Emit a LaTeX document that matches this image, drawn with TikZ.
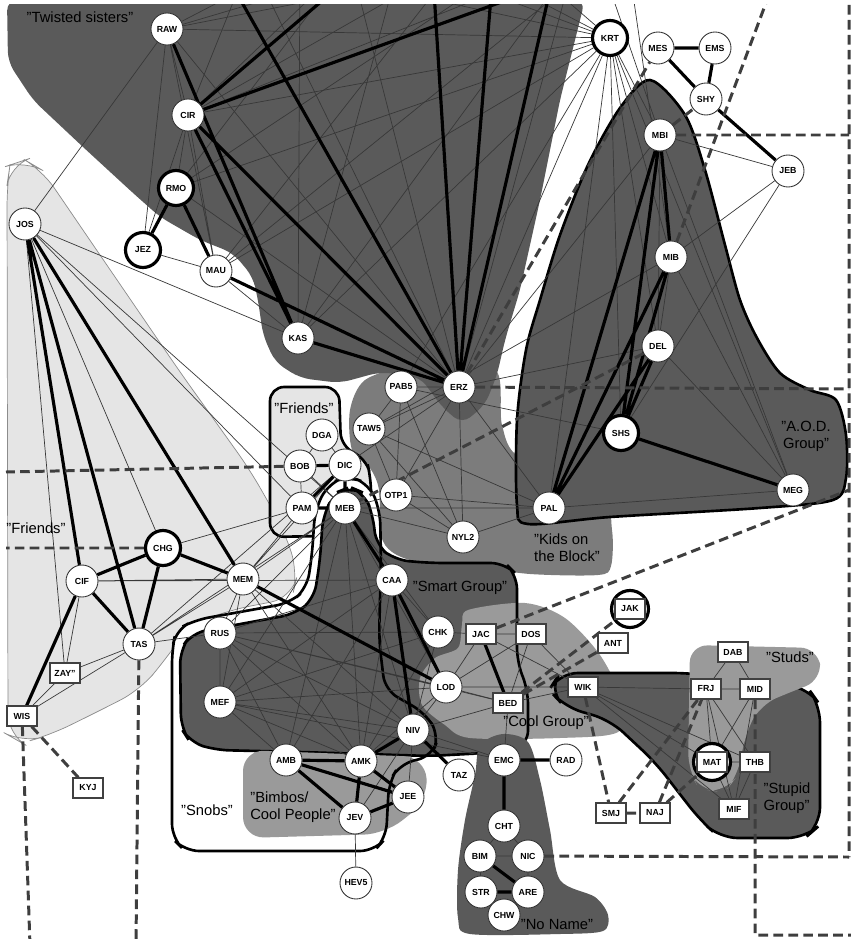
\documentclass[tikz,border=0pt]{standalone}
\usepackage{fontspec}
\setmainfont{Liberation Sans}
\setsansfont{Liberation Sans}
\usepackage{tikz}
\usetikzlibrary{backgrounds}
\definecolor{GroupDark}{RGB}{90,90,90}
\definecolor{GroupMid}{RGB}{124,124,124}
\definecolor{GroupSoft}{RGB}{154,154,154}
\definecolor{GroupLight}{RGB}{229,229,229}
\definecolor{LinkGray}{RGB}{62,62,62}

\begin{document}
\begin{tikzpicture}[x=0.02cm,y=-0.02cm,
    kid/.style={circle,draw=black!80,line width=0.5pt,fill=white,inner sep=0pt,
                minimum size=0.64cm,font=\fontsize{5}{6}\selectfont\bfseries},
    lead/.style={kid,draw=black,line width=1.8pt,minimum size=0.7cm},
    badge/.style={rectangle,draw=black!75,line width=0.6pt,fill=white,inner sep=1pt,
                  minimum width=0.6cm,minimum height=0.4cm,font=\fontsize{5}{6}\selectfont\bfseries},
    ring/.style={circle,draw=black,line width=1.8pt,fill=white,minimum size=0.74cm,inner sep=0pt},
    tie/.style={draw=black!78,line width=0.4pt},
    bond/.style={draw=black,line width=1.8pt},
    link/.style={draw=LinkGray,line width=1.7pt,dash pattern=on 5.5pt off 3pt},
    crowd/.style={draw=black,line width=1.5pt},
    gname/.style={font=\fontsize{8.4}{9.6}\selectfont,inner sep=0pt}
  ]
  \useasboundingbox (0,0) rectangle (851,939);

  % people
  \node[kid]  (RAW)  at (167,29)  {RAW};
  \node[lead] (KRT)  at (610,38)  {KRT};
  \node[kid]  (MES)  at (658,48)  {MES};
  \node[kid]  (EMS)  at (715,48)  {EMS};
  \node[kid]  (SHY)  at (706,99)  {SHY};
  \node[kid]  (CIR)  at (188,115) {CIR};
  \node[kid]  (MBI)  at (660,135) {MBI};
  \node[kid]  (JEB)  at (788,171) {JEB};
  \node[lead] (RMO)  at (176,188) {RMO};
  \node[kid]  (JOS)  at (25,224)  {JOS};
  \node[lead] (JEZ)  at (143,250) {JEZ};
  \node[kid]  (MAU)  at (216,271) {MAU};
  \node[kid]  (MIB)  at (671,257) {MIB};
  \node[kid]  (KAS)  at (298,338) {KAS};
  \node[kid]  (DEL)  at (658,346) {DEL};
  \node[kid]  (ERZ)  at (459,387) {ERZ};
  \node[kid]  (PAB5) at (401,387) {PAB5};
  \node[kid]  (TAW5) at (369,429) {TAW5};
  \node[kid]  (DGA)  at (322,435) {DGA};
  \node[lead] (SHS)  at (621,433) {SHS};
  \node[kid]  (BOB)  at (300,466) {BOB};
  \node[kid]  (DIC)  at (345,465) {DIC};
  \node[kid]  (OTP1) at (396,495) {OTP1};
  \node[kid]  (PAM)  at (302,508) {PAM};
  \node[kid]  (MEB)  at (345,508) {MEB};
  \node[kid]  (PAL)  at (549,508) {PAL};
  \node[kid]  (MEG)  at (793,490) {MEG};
  \node[kid]  (NYL2) at (463,537) {NYL2};
  \node[lead] (CHG)  at (163,548) {CHG};
  \node[kid]  (MEM)  at (243,579) {MEM};
  \node[kid]  (CIF)  at (82,581)  {CIF};
  \node[kid]  (CAA)  at (392,580) {CAA};
  \node[ring] (JAKring) at (630,609) {};
  \node[badge] (JAK) at (630,609) {JAK};
  \node[kid]  (RUS)  at (220,633) {RUS};
  \node[kid]  (CHK)  at (438,632) {CHK};
  \node[badge] (JAC) at (481,634) {JAC};
  \node[badge] (DOS) at (531,634) {DOS};
  \node[kid]  (TAS)  at (139,644) {TAS};
  \node[badge] (ANT) at (613,643) {ANT};
  \node[badge] (DAB) at (733,652) {DAB};
  \node[badge] (ZAY) at (65,673)  {ZAY"};
  \node[kid]  (LOD)  at (446,687) {LOD};
  \node[badge] (WIK) at (583,687) {WIK};
  \node[badge] (FRJ) at (706,689) {FRJ};
  \node[badge] (MID) at (755,689) {MID};
  \node[badge] (BED) at (508,703) {BED};
  \node[kid]  (MEF)  at (220,702) {MEF};
  \node[badge] (WIS) at (22,716)  {WIS};
  \node[kid]  (NIV)  at (413,730) {NIV};
  \node[kid]  (AMB)  at (286,760) {AMB};
  \node[kid]  (AMK)  at (361,761) {AMK};
  \node[kid]  (EMC)  at (504,760) {EMC};
  \node[kid]  (RAD)  at (566,760) {RAD};
  \node[ring] (MATring) at (712,762) {};
  \node[badge] (MAT) at (712,762) {MAT};
  \node[badge] (THB) at (755,762) {THB};
  \node[kid]  (TAZ)  at (459,775) {TAZ};
  \node[badge] (KYJ) at (88,788)  {KYJ};
  \node[kid]  (JEE)  at (408,797) {JEE};
  \node[badge] (MIF) at (734,809) {MIF};
  \node[badge] (SMJ) at (611,813) {SMJ};
  \node[badge] (NAJ) at (655,813) {NAJ};
  \node[kid]  (JEV)  at (355,818) {JEV};
  \node[kid]  (CHT)  at (504,826) {CHT};
  \node[kid]  (BIM)  at (480,856) {BIM};
  \node[kid]  (NIC)  at (528,856) {NIC};
  \node[kid]  (HEV5) at (356,883) {HEV5};
  \node[kid]  (STR)  at (481,892) {STR};
  \node[kid]  (ARE)  at (528,892) {ARE};
  \node[kid]  (CHW)  at (504,915) {CHW};

  % group names
  \node[gname] (twisted) at (80,17) {"Twisted sisters"};
  \node[gname] (friendsA) at (304,408) {"Friends"};
  \node[gname] (friendsB) at (36,528) {"Friends"};
  \node[gname,align=center] (aod) at (806,436) {"A.O.D.\\Group"};
  \node[gname,align=left] (kids) at (567,548) {"Kids on\\the Block"};
  \node[gname] (smart) at (460,588) {"Smart Group"};
  \node[gname] (cool) at (546,723) {"Cool Group"};
  \node[gname] (studs) at (790,657) {"Studs"};
  \node[gname,align=left] (stupid) at (787,798) {"Stupid\\Group"};
  \node[gname] (noname) at (557,924) {"No Name"};
  \node[gname] (snobs) at (207,810) {"Snobs"};
  \node[gname,align=left] (bimbos) at (293,807) {"Bimbos/\\Cool People"};

  % ends outside the picture
  \coordinate (oA) at (370,-40);
  \coordinate (oB) at (618,-40);
  \coordinate (oC) at (218,-40);
  \coordinate (oD) at (432,-40);
  \coordinate (oE) at (494,-40);
  \coordinate (oF) at (557,-40);
  \coordinate (oG) at (782,-40);
  \coordinate (u1) at (250,-40);
  \coordinate (u2) at (300,-40);
  \coordinate (u3) at (350,-40);
  \coordinate (u4) at (400,-40);
  \coordinate (u5) at (460,-40);
  \coordinate (u6) at (520,-40);
  \coordinate (u7) at (575,-40);
  \coordinate (u8) at (600,-40);
  \coordinate (u9) at (628,-40);
  \coordinate (eBOB) at (6,472);
  \coordinate (eCHG) at (6,548);
  \coordinate (eERZ) at (849,389);
  \coordinate (eMBI) at (849,135);
  \coordinate (eJAC) at (849,490);
  \coordinate (eTop) at (849,5);
  \coordinate (eNIC) at (849,857);
  \coordinate (eMID) at (755,935);
  \coordinate (eEnd) at (851,935);
  \coordinate (eTAS) at (136,945);
  \coordinate (eWIS) at (30,945);

  \begin{scope}[on background layer]
    \clip (0,5) rectangle (851,939);
    % groups
    \path[draw=black!45,line width=0.4pt,fill=GroupLight,rounded corners=12]
      (7,185) -- (10,165) -- (25,160) -- (42,170) -- (100,255) -- (180,372)
      -- (250,470) -- (283,528) -- (298,572) -- (292,598) -- (230,610) -- (190,625)
      -- (165,660) -- (140,690) -- (95,713) -- (50,735) -- (22,743) -- (8,735) -- cycle;
    \fill[GroupMid] plot[smooth cycle,tension=0.5] coordinates {
      (350,410) (365,380) (410,365) (455,362) (497,372) (502,425) (520,458)
      (600,490) (612,530) (611,566) (598,575) (530,574) (470,566) (418,562)
      (392,552) (381,535) (379,490) (370,468) (352,450)};
    \fill[GroupDark,rounded corners=6]
      (7,0) -- (585,0) -- (560,100) -- (540,200) -- (520,290) -- (505,340)
      -- (497,375) -- (485,405) -- (462,424) -- (442,407) -- (420,377) -- (380,372)
      -- (340,383) -- (300,378) -- (275,362) -- (263,335) -- (258,300) -- (253,277)
      -- (233,253) -- (200,240) -- (160,217) -- (133,193) -- (83,147) -- (33,100)
      -- (8,62) -- cycle;
    \path[crowd,fill=GroupDark] plot[smooth cycle,tension=0.5] coordinates {
      (650,80) (685,115) (705,170) (725,245) (740,300) (757,338) (780,373)
      (810,390) (836,400) (846,435) (846,478) (833,500) (760,508) (610,517)
      (528,524) (517,505) (517,420) (526,350) (540,300) (560,235) (588,165) (620,108)};
    \path[crowd,fill=GroupLight,rounded corners=8]
      (270,387) -- (339,387) -- (341,447) -- (366,458) -- (371,478)
      -- (371,535) -- (270,537) -- cycle;
    \path[save path=\snobsline,rounded corners=8]
      (172,650) -- (176,630) -- (195,620) -- (290,603) -- (307,588) -- (312,555)
      -- (315,510) -- (328,484) -- (348,476) -- (369,484) -- (380,510) -- (381,560)
      -- (379,640) -- (385,690) -- (425,713) -- (439,735) -- (432,756) -- (400,764)
      -- (389,782) -- (386,838) -- (374,851) -- (185,851) -- (172,838) -- cycle;
    \fill[white,use path=\snobsline];
    \path[save path=\smartline,rounded corners=8]
      (181,728) -- (180,650) -- (192,633) -- (235,625) -- (295,614) -- (314,599)
      -- (320,560) -- (323,515) -- (335,493) -- (350,487) -- (364,493) -- (373,515)
      -- (376,545) -- (395,560) -- (430,563) -- (505,563) -- (517,575) -- (517,662)
      -- (528,690) -- (528,745) -- (505,752) -- (430,756) -- (300,752) -- (215,750)
      -- (190,742) -- cycle;
    \fill[GroupDark,use path=\smartline];
    \fill[GroupSoft] plot[smooth cycle,tension=0.5] coordinates {
      (468,610) (525,603) (565,618) (600,655) (622,700) (618,732) (560,738)
      (470,738) (445,725) (422,705) (420,678) (435,658) (458,648) (462,625)};
    \draw[crowd,use path=\smartline];
    \fill[GroupSoft,rounded corners=12]
      (243,750) -- (425,757) -- (428,800) -- (385,834) -- (243,838) -- cycle;
    \draw[crowd,use path=\snobsline];
    \fill[GroupDark] plot[smooth cycle,tension=0.5] coordinates {
      (503,734) (528,742) (540,780) (550,830) (560,880) (595,897) (608,915)
      (603,931) (560,934) (470,934) (458,918) (458,870) (465,820) (475,775) (480,745)};
    \path[crowd,fill=GroupDark,rounded corners=10]
      (560,673) -- (690,673) -- (808,688) -- (820,705) -- (820,825) -- (805,838)
      -- (720,838) -- (700,820) -- (655,762) -- (610,720) -- (565,707) -- (549,690) -- cycle;
    \fill[GroupSoft,rounded corners=10]
      (690,645) -- (818,648) -- (822,680) -- (788,693) -- (760,705) -- (745,735)
      -- (738,775) -- (725,792) -- (700,790) -- (688,770) -- cycle;

    % weak ties
    \draw[tie] (RAW) -- (JOS) (RAW) -- (JEZ) (RAW) -- (CIR) (RAW) -- (MAU)
      (RAW) -- (ERZ) (RAW) -- (KRT) (CIR) -- (RMO) (CIR) -- (JEZ) (CIR) -- (MAU)
      (CIR) -- (KRT) (RMO) -- (ERZ) (RMO) -- (KRT) (JEZ) -- (MAU) (MAU) -- (KAS)
      (MAU) -- (KRT) (KAS) -- (KRT) (JOS) -- (KAS) (ERZ) -- (KRT);
    \draw[tie] (RAW) -- (u2) (RAW) -- (u4) (RAW) -- (u6) (CIR) -- (u1) (CIR) -- (u3)
      (CIR) -- (u5) (CIR) -- (u7) (RMO) -- (u3) (RMO) -- (u6) (KAS) -- (u2)
      (KAS) -- (u4) (KAS) -- (u7) (ERZ) -- (u1) (ERZ) -- (u3) (ERZ) -- (u7)
      (MAU) -- (u5) (MAU) -- (u8) (KRT) -- (u4) (KRT) -- (u5) (KRT) -- (u6)
      (KRT) -- (u1) (u8) -- (MBI) (u9) -- (MIB);
    \draw[tie] (KRT) -- (MBI) (KRT) -- (MIB) (KRT) -- (DEL) (KRT) -- (SHS)
      (KRT) -- (PAL) (KRT) -- (MEG) (KRT) -- (PAB5);
    \draw[tie] (MBI) -- (DEL) (MBI) -- (MEG) (MIB) -- (MEG) (MIB) -- (DEL)
      (DEL) -- (MEG) (PAL) -- (MEG) (MBI) -- (JEB) (MIB) -- (JEB) (SHS) -- (JEB)
      (PAL) -- (ERZ) (PAL) -- (TAW5) (PAL) -- (OTP1) (PAL) -- (MEB) (PAL) -- (NYL2)
      (DEL) -- (ERZ) (MBI) -- (ERZ) (SHS) -- (PAB5) (MIB) -- (TAW5);
    \draw[tie] (PAB5) -- (ERZ) (PAB5) -- (TAW5) (PAB5) -- (OTP1) (PAB5) -- (NYL2)
      (TAW5) -- (ERZ) (TAW5) -- (OTP1) (TAW5) -- (NYL2) (ERZ) -- (OTP1)
      (ERZ) -- (NYL2) (OTP1) -- (NYL2) (NYL2) -- (MEB) (OTP1) -- (MEB) (ERZ) -- (DIC);
    \draw[tie] (DGA) -- (BOB) (DGA) -- (DIC) (BOB) -- (PAM) (BOB) -- (MEB);
    \draw[tie] (JOS) -- (CHG) (JOS) -- (ZAY) (JOS) -- (PAM) (JOS) -- (MEB)
      (CIF) -- (ZAY) (CIF) -- (MEM) (CIF) -- (CAA) (TAS) -- (ZAY) (TAS) -- (WIS)
      (TAS) -- (RUS) (TAS) -- (MEM) (TAS) -- (MEB) (CHG) -- (PAM) (MEM) -- (PAM)
      (MEM) -- (MEB) (MEM) -- (DIC) (WIS) -- (ZAY) (TAS) -- (DIC);
    \draw[tie] (MEB) -- (RUS) (MEB) -- (MEF) (MEB) -- (LOD) (MEB) -- (CHK)
      (MEB) -- (NIV) (MEB) -- (AMB) (MEB) -- (AMK) (MEM) -- (RUS) (MEM) -- (MEF)
      (MEM) -- (NIV) (MEM) -- (AMK) (RUS) -- (MEF) (RUS) -- (CAA) (RUS) -- (CHK)
      (RUS) -- (LOD) (RUS) -- (NIV) (RUS) -- (AMB) (RUS) -- (AMK) (MEF) -- (CAA)
      (MEF) -- (CHK) (MEF) -- (LOD) (MEF) -- (NIV) (MEF) -- (AMB) (MEF) -- (AMK)
      (CAA) -- (CHK) (CAA) -- (AMB) (CAA) -- (AMK) (CHK) -- (NIV) (CHK) -- (AMK)
      (LOD) -- (NIV) (LOD) -- (AMK) (NIV) -- (JEE) (NIV) -- (JEV) (NIV) -- (EMC)
      (NIV) -- (BED) (RUS) -- (BED) (MEF) -- (EMC) (JEV) -- (HEV5);
    \draw[tie] (LOD) -- (JAC) (LOD) -- (DOS) (LOD) -- (BED) (LOD) -- (WIK)
      (JAC) -- (DOS) (DOS) -- (BED) (DOS) -- (WIK) (JAC) -- (WIK) (BED) -- (EMC)
      (BED) -- (WIK) (CHK) -- (JAC);
    \draw[tie] (WIK) -- (FRJ) (WIK) -- (MAT) (WIK) -- (THB) (WIK) -- (MIF)
      (DAB) -- (FRJ) (DAB) -- (MID) (FRJ) -- (MID) (FRJ) -- (MAT) (FRJ) -- (THB)
      (FRJ) -- (MIF) (MID) -- (MAT) (MID) -- (MIF) (MAT) -- (THB) (MAT) -- (MIF)
      (THB) -- (MIF);
    \draw[tie] (CHT) -- (BIM) (CHT) -- (NIC) (BIM) -- (NIC) (BIM) -- (STR)
      (NIC) -- (ARE) (STR) -- (CHW);

    % strong ties
    \draw[bond] (RAW) -- (KAS) (CIR) -- (KAS) (CIR) -- (ERZ) (CIR) -- (oA)
      (CIR) -- (oB) (ERZ) -- (oC) (ERZ) -- (oD) (ERZ) -- (oE) (ERZ) -- (oF)
      (KAS) -- (ERZ) (MAU) -- (ERZ) (RMO) -- (JEZ) (RMO) -- (MAU);
    \draw[bond] (MES) -- (EMS) (MES) -- (SHY) (EMS) -- (SHY) (SHY) -- (JEB)
      (MBI) -- (MIB) (MBI) -- (PAL) (MBI) -- (SHS) (MIB) -- (PAL) (MIB) -- (SHS)
      (DEL) -- (SHS) (DEL) -- (PAL) (SHS) -- (MEG);
    \draw[bond] (JOS) -- (CIF) (JOS) -- (TAS) (JOS) -- (MEM) (CHG) -- (CIF)
      (CHG) -- (TAS) (CHG) -- (MEM) (CIF) -- (TAS) (CIF) -- (WIS) (MEM) -- (LOD);
    \draw[bond] (BOB) -- (DIC) (DIC) -- (PAM) (DIC) -- (MEB) (PAM) -- (MEB)
      (MEB) -- (CAA) (CAA) -- (NIV) (CAA) -- (LOD) (NIV) -- (AMK) (NIV) -- (TAZ)
      (AMB) -- (AMK) (AMB) -- (JEV) (AMB) -- (JEE) (AMK) -- (JEE) (AMK) -- (JEV)
      (JEV) -- (JEE);
    \draw[bond] (JAC) -- (BED) (EMC) -- (RAD) (EMC) -- (CHT) (BIM) -- (ARE)
      (STR) -- (ARE) (STR) -- (CHW) (ARE) -- (CHW);

    % ties across groups
    \draw[link] (BOB) -- (eBOB) (CHG) -- (eCHG) (ERZ) -- (eERZ) (MBI) -- (eMBI)
      (JAC) -- (eJAC) (NIC) -- (eNIC) (eTop) -- (eNIC) (MID) -- (eMID) -- (eEnd)
      (MIB) -- (oG) (ERZ) -- (MES) (DEL) -- (MEB) (MBI) -- (SHY);
    \draw[link] (BED) -- (JAKring) (BED) -- (ANT) (WIK) -- (SMJ) (SMJ) -- (NAJ)
      (SMJ) -- (FRJ) (NAJ) -- (FRJ) (NAJ) -- (MATring) (TAS) -- (eTAS)
      (WIS) -- (eWIS) (WIS) -- (KYJ);
  \end{scope}
\end{tikzpicture}
\end{document}
